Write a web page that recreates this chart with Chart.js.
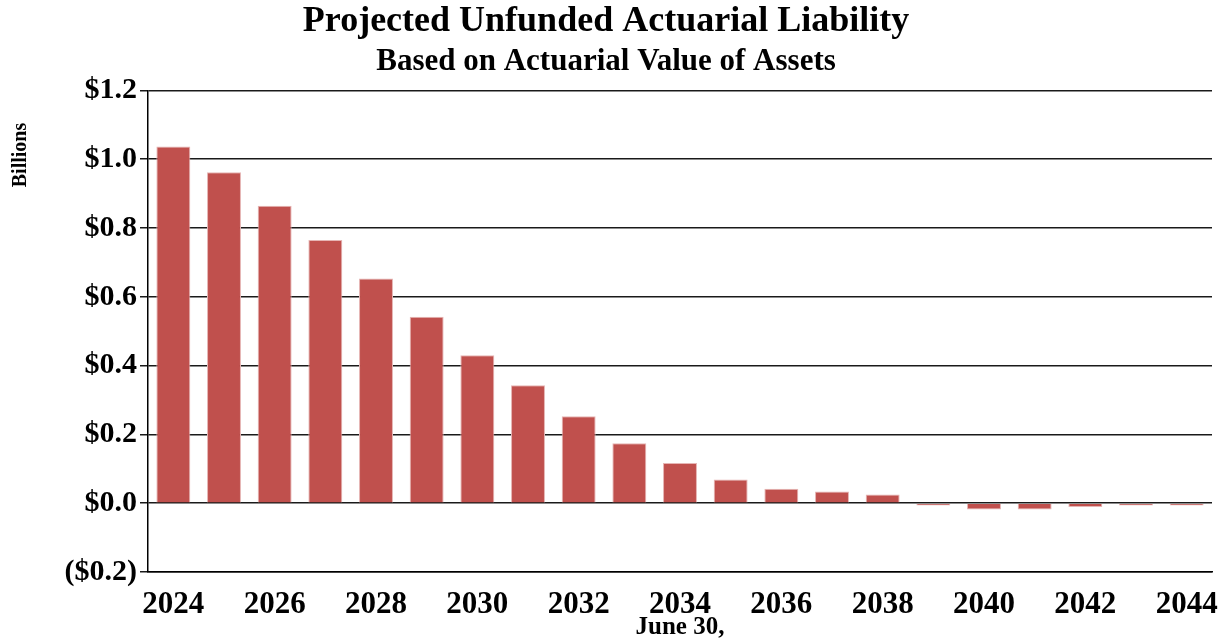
<!DOCTYPE html>
<html>
<head>
<meta charset="utf-8">
<script src="https://cdn.jsdelivr.net/npm/chart.js@4.4.1/dist/chart.umd.min.js"></script>
<style>
    html, body { margin: 0; padding: 0; background: #fff; }
    #wrap { width: 1228px; height: 639px; }
</style>
</head>
<body>
<div id="wrap"><canvas id="ualChart" width="1228" height="639"></canvas></div>
<script>
// Valuation years (June 30) and projected UAL in billions
const years = ['2024', '2025', '2026', '2027', '2028', '2029', '2030', '2031', '2032', '2033', '2034',
               '2035', '2036', '2037', '2038', '2039', '2040', '2041', '2042', '2043', '2044'];
const unfundedLiability = [1.037, 0.962, 0.865, 0.765, 0.653, 0.542, 0.430, 0.343, 0.253, 0.174, 0.117,
                           0.069, 0.042, 0.034, 0.025, -0.007, -0.018, -0.018, -0.011, -0.007, -0.007];
const yTicks = [-0.2, 0.0, 0.2, 0.4, 0.6, 0.8, 1.0, 1.2];

const serif = '"Liberation Serif", "Times New Roman", serif';

function formatDollars(v) {
    const s = '$' + Math.abs(v).toFixed(1);
    return v < -1e-9 ? '(' + s + ')' : s;
}

// "Billions" sits near the top of the value axis, not centred on it
const unitsLabel = {
    id: 'unitsLabel',
    afterDraw(chart) {
        const c = chart.ctx;
        c.save();
        c.translate(21, 155);
        c.rotate(-Math.PI / 2);
        c.fillStyle = '#000';
        c.font = 'bold 20px ' + serif;
        c.textAlign = 'center';
        c.textBaseline = 'middle';
        c.fillText('Billions', 0, 0);
        c.restore();
    }
};

const ctx = document.getElementById('ualChart').getContext('2d');
new Chart(ctx, {
    type: 'bar',
    data: {
        labels: years,
        datasets: [{
            data: unfundedLiability,
            backgroundColor: '#C0504D',
            borderColor: '#E6B5B4',
            borderWidth: 1,
            categoryPercentage: 1.0,
            barPercentage: 0.67
        }]
    },
    plugins: [unitsLabel],
    options: {
        responsive: false,
        animation: false,
        layout: { padding: { top: 0, right: 16, bottom: 0, left: 0 } },
        plugins: {
            legend: { display: false },
            tooltip: { enabled: false },
            title: {
                display: true,
                text: 'Projected Unfunded Actuarial Liability',
                color: '#000',
                font: { family: serif, size: 36, weight: 'bold' },
                padding: { top: 0, bottom: 0 }
            },
            subtitle: {
                display: true,
                text: 'Based on Actuarial Value of Assets',
                color: '#000',
                font: { family: serif, size: 31, weight: 'bold' },
                padding: { top: 0, bottom: 10 }
            }
        },
        scales: {
            x: {
                afterFit: scale => { scale.height = 67; },
                grid: { display: false },
                border: { display: true, color: '#000', width: 1.5 },
                ticks: {
                    autoSkip: false,
                    maxRotation: 0,
                    color: '#000',
                    padding: 6,
                    font: { family: serif, size: 31, weight: 'bold' },
                    callback: (v, i) => (i % 2 === 0 ? years[i] : '')
                },
                title: {
                    display: true,
                    text: 'June 30,',
                    color: '#000',
                    padding: { top: 0, bottom: -4 },
                    font: { family: serif, size: 25, weight: 'bold' }
                }
            },
            y: {
                min: -0.2,
                max: 1.2,
                afterBuildTicks: scale => { scale.ticks = yTicks.map(v => ({ value: v })); },
                afterFit: scale => { scale.width = 148; },
                grid: {
                    color: '#1a1a1a',
                    lineWidth: 1.5,
                    tickLength: 8
                },
                border: { display: true, color: '#000', width: 1.5 },
                ticks: {
                    color: '#000',
                    padding: 3,
                    font: { family: serif, size: 30, weight: 'bold' },
                    callback: v => formatDollars(v)
                }
            }
        }
    }
});
</script>
</body>
</html>
